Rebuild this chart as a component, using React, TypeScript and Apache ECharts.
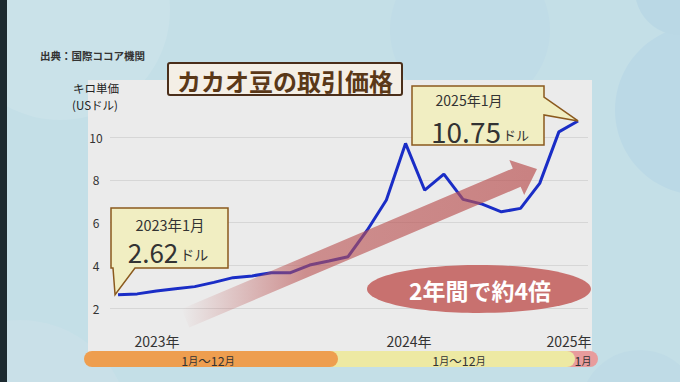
import React, { useEffect, useRef } from "react";
import * as echarts from "echarts";

const months: string[] = [
  "2023-01","2023-02","2023-03","2023-04","2023-05","2023-06","2023-07","2023-08","2023-09","2023-10","2023-11","2023-12",
  "2024-01","2024-02","2024-03","2024-04","2024-05","2024-06","2024-07","2024-08","2024-09","2024-10","2024-11","2024-12",
  "2025-01",
];
const prices: number[] = [
  2.62, 2.66, 2.8, 2.9, 3.0, 3.2, 3.42, 3.5, 3.65, 3.65, 4.01, 4.2,
  4.4, 5.64, 7.05, 9.7, 7.51, 8.26, 7.08, 6.86, 6.5, 6.66, 7.83, 10.24,
  10.75,
];
const yTicks: number[] = [2, 4, 6, 8, 10];
const yearLabels: string[] = ["2023年", "2024年", "2025年"];
const bandLabels: string[] = ["1月〜12月", "1月〜12月", "1月"];

const FONT = "'Noto Sans CJK JP', 'Noto Sans', sans-serif";

export default function App() {
  const ref = useRef<HTMLDivElement>(null);
  useEffect(() => {
    if (!ref.current) return;
    const chart = echarts.init(ref.current, null, { renderer: "svg" });
    const data = prices.map((v, i) => [i, v]);
    const base: any = {
      animation: false,
      backgroundColor: "#C4DFE7",
      textStyle: { fontFamily: FONT },
      grid: { left: 110, right: 92, top: 137, bottom: 74 },
      xAxis: {
        type: "value",
        min: -0.42,
        max: 24.52,
        show: false,
        splitLine: { show: false },
      },
      yAxis: {
        type: "value",
        min: yTicks[0],
        max: yTicks[yTicks.length - 1],
        interval: 2,
        axisLine: { show: false },
        axisTick: { show: false },
        axisLabel: { color: "#333", fontSize: 12, align: "center", margin: 14, fontFamily: FONT },
        splitLine: { lineStyle: { color: "#D6D6D6", width: 1 } },
      },
      series: [
        {
          type: "line",
          name: "price",
          data,
          clip: false,
          symbol: "none",
          z: 3,
          lineStyle: { color: "#1A2DC6", width: 3 },
        },
      ],
    };
    chart.setOption(base);

    const p0 = chart.convertToPixel({ gridIndex: 0 }, [0, prices[0]]) as number[];
    const pN = chart.convertToPixel({ gridIndex: 0 }, [prices.length - 1, prices[prices.length - 1]]) as number[];

    // arrow geometry
    const ang = (23 * Math.PI) / 180;
    const u = [Math.cos(ang), -Math.sin(ang)];
    const n = [Math.sin(ang), Math.cos(ang)];
    const T = [537, 169];
    const B = [T[0] - 22 * u[0], T[1] - 22 * u[1]];
    const S = [B[0] - 360 * u[0], B[1] - 360 * u[1]];
    const pt = (P: number[], k: number) => [P[0] + k * n[0], P[1] + k * n[1]];
    const arrowPts = [pt(S, -10), pt(B, -10), pt(B, -19), T, pt(B, 19), pt(B, 10), pt(S, 10)];

    const bandY = 351;
    const bandH = 16;
    const bandTextRich = {
      d: { fontSize: 12.5, fill: "#333", fontFamily: FONT, lineHeight: 14 },
      m: { fontSize: 10, fill: "#333", fontFamily: FONT, lineHeight: 14 },
    };
    const bandRich = (s: string) =>
      s.replace(/(\d+)/g, "{d|$1}").replace(/月/g, "{m|月}").replace(/〜/g, "{d|〜}");

    const txt = (x: number, y: number, text: string, fontSize: number, extra: any = {}, z = 5) => ({
      type: "text", z, x, y,
      style: { text, fontSize, fill: "#333", fontFamily: FONT, align: "center", verticalAlign: "middle", lineHeight: fontSize, ...extra },
    });

    const graphic: any[] = [
      // decorative circles
      { type: "circle", z: -19, shape: { cx: 60, cy: 10, r: 110 }, style: { fill: "#CAE2E9" } },
      { type: "circle", z: -19, shape: { cx: 470, cy: 30, r: 80 }, style: { fill: "#C0DCE7" } },
      { type: "circle", z: -19, shape: { cx: 700, cy: 110, r: 85 }, style: { fill: "#BBD9E6" } },
      { type: "circle", z: -19, shape: { cx: 680, cy: -10, r: 45 }, style: { fill: "#BAD8E5" } },
      { type: "circle", z: -19, shape: { cx: 640, cy: 410, r: 60 }, style: { fill: "#BFDBE6" } },
      { type: "circle", z: -19, shape: { cx: 20, cy: 430, r: 110 }, style: { fill: "#C9E0E8" } },
      // left dark edge
      { type: "rect", z: -5, shape: { x: 0, y: 0, width: 7, height: 382 }, style: { fill: "#1C2A30" } },
      // gray plot panel
      { type: "rect", z: -10, shape: { x: 88, y: 80, width: 504, height: 272 }, style: { fill: "#EBEBEB" } },
      // source
      { type: "text", x: 40, y: 55, style: { text: "出典：国際ココア機関", fontSize: 10.5, fontWeight: "bold", fill: "#333", fontFamily: FONT, verticalAlign: "middle" } },
      // axis title
      txt(96, 88, "キロ単価", 11.5, { fill: "#222" }),
      txt(95, 104.5, "(USドル)", 11.5, { fill: "#222" }),
      // title box
      { type: "rect", z: 10, shape: { x: 168, y: 63, width: 234, height: 32, r: 2 }, style: { fill: "#F4EFE6", stroke: "#4A2E1A", lineWidth: 2 } },
      txt(285, 80, "カカオ豆の取引価格", 24, { fontWeight: "bold", fill: "#5A3818" }, 11),
      // arrow
      {
        type: "polygon",
        z: 20,
        shape: { points: arrowPts },
        style: {
          fill: new echarts.graphic.LinearGradient(0, 0, 1, 0, [
            { offset: 0, color: "rgba(185,80,80,0)" },
            { offset: 0.35, color: "rgba(185,80,80,0.6)" },
            { offset: 1, color: "rgba(185,80,80,0.68)" },
          ]),
        },
      },
      // ellipse
      { type: "ellipse", z: 21, shape: { cx: 479, cy: 289, rx: 112, ry: 24 }, style: { fill: "#C8716F" } },
      txt(480, 290, "2年間で約4倍", 23, {
        fill: "#FFFFFF", fontWeight: "bold",
        textShadowColor: "#6E1E1E", textShadowBlur: 0, textShadowOffsetX: 1.5, textShadowOffsetY: 1.5,
      }, 22),
      // callout 1
      {
        type: "polygon", z: 30,
        shape: { points: [[111, 208], [228, 208], [228, 268], [135, 268], [p0[0] - 3, p0[1]], [113, 268], [111, 268]] },
        style: { fill: "#F1EEC2", stroke: "#8B5A1E", lineWidth: 1.5 },
      },
      txt(170, 224, "2023年1月", 14.5, {}, 31),
      {
        type: "text", z: 31, x: 168, y: 251,
        style: {
          text: "{a|2.62}{b|ドル}", align: "center", verticalAlign: "middle",
          rich: {
            a: { fontSize: 26, fill: "#333", fontFamily: FONT, lineHeight: 24 },
            b: { fontSize: 14, fill: "#333", fontFamily: FONT, lineHeight: 24, padding: [6, 0, 0, 2] },
          },
        },
      },
      // callout 2
      {
        type: "polygon", z: 30,
        shape: { points: [[412, 86], [544, 86], [544, 97], [pN[0], pN[1]], [544, 115], [544, 145], [412, 145]] },
        style: { fill: "#F1EEC2", stroke: "#8B5A1E", lineWidth: 1.5 },
      },
      txt(469, 100, "2025年1月", 14, {}, 31),
      {
        type: "text", z: 31, x: 480, y: 130.5,
        style: {
          text: "{a|10.75}{b|ドル}", align: "center", verticalAlign: "middle",
          rich: {
            a: { fontSize: 28, fill: "#333", fontFamily: FONT, lineHeight: 26 },
            b: { fontSize: 13, fill: "#333", fontFamily: FONT, lineHeight: 26, padding: [8, 0, 0, 2] },
          },
        },
      },
      // year labels
      txt(157, 340.5, yearLabels[0], 14),
      txt(409, 340.5, yearLabels[1], 14),
      txt(569, 340.5, yearLabels[2], 14),
      // bands
      { type: "rect", z: 1, shape: { x: 560, y: bandY, width: 38, height: bandH, r: [0, 8, 8, 0] }, style: { fill: "#E89C9C" } },
      { type: "rect", z: 2, shape: { x: 330, y: bandY, width: 245, height: bandH, r: [0, 8, 8, 0] }, style: { fill: "#EDE9A3" } },
      { type: "rect", z: 3, shape: { x: 84, y: bandY, width: 254, height: bandH, r: 8 }, style: { fill: "#EE9E4F" } },
      { type: "text", z: 5, x: 208, y: 360, style: { text: bandRich(bandLabels[0]), align: "center", verticalAlign: "middle", rich: bandTextRich } },
      { type: "text", z: 5, x: 459, y: 360, style: { text: bandRich(bandLabels[1]), align: "center", verticalAlign: "middle", rich: bandTextRich } },
      { type: "text", z: 5, x: 583, y: 360, style: { text: bandRich(bandLabels[2]), align: "center", verticalAlign: "middle", rich: bandTextRich } },
    ];
    chart.setOption({ graphic });
    return () => chart.dispose();
  }, []);
  return (
    <div
      ref={ref}
      style={{ position: "fixed", left: 0, top: 0, width: 680, height: 382 }}
    />
  );
}
